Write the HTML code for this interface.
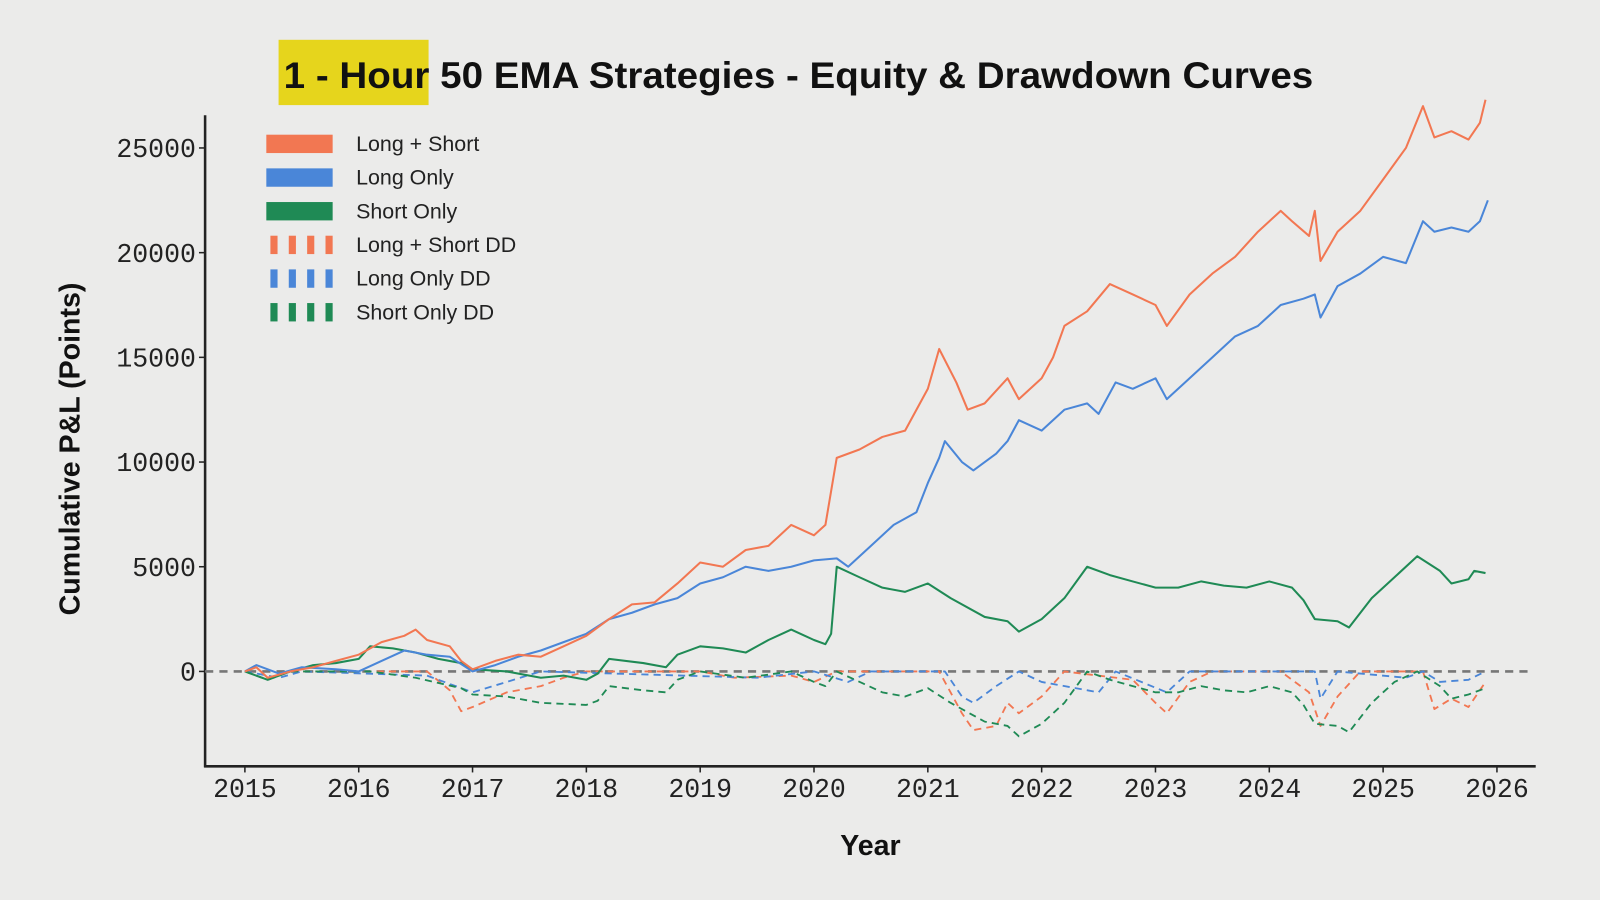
<!DOCTYPE html>
<html><head><meta charset="utf-8"><style>
html,body{margin:0;padding:0;background:#ebebea;}
svg{display:block;}
</style></head><body>
<svg id="chart" width="1600" height="900" viewBox="0 0 1568 882" preserveAspectRatio="none" xmlns="http://www.w3.org/2000/svg">
<rect width="1568" height="882" fill="#ebebea"/>
<rect x="273" y="39" width="147" height="64" fill="#e6d51c"/>
<text x="278" y="86" font-family="Liberation Sans, sans-serif" font-weight="bold" font-size="36" fill="#111" textLength="1009" lengthAdjust="spacingAndGlyphs">1 - Hour 50 EMA Strategies - Equity &amp; Drawdown Curves</text>
<text transform="translate(78,440) rotate(-90)" text-anchor="middle" font-family="Liberation Sans, sans-serif" font-weight="bold" font-size="28" fill="#111">Cumulative P&amp;L (Points)</text>
<text x="853" y="838" text-anchor="middle" font-family="Liberation Sans, sans-serif" font-weight="bold" font-size="28" fill="#111">Year</text>
<g id="plot"></g>
<g id="legend"></g>
</svg>
<script>
const yearTicks=[2015,2016,2017,2018,2019,2020,2021,2022,2023,2024,2025,2026];
const valueTicks=[0,5000,10000,15000,20000,25000];
const lsT=[2015,2015.1,2015.2,2015.4,2015.6,2015.8,2016,2016.2,2016.4,2016.5,2016.6,2016.8,2016.9,2017,2017.2,2017.4,2017.6,2017.8,2018,2018.2,2018.4,2018.6,2018.8,2019,2019.2,2019.4,2019.6,2019.8,2020,2020.1,2020.2,2020.4,2020.6,2020.8,2021,2021.1,2021.25,2021.35,2021.5,2021.7,2021.8,2022,2022.1,2022.2,2022.4,2022.6,2022.8,2023,2023.1,2023.3,2023.5,2023.7,2023.9,2024.1,2024.2,2024.35,2024.4,2024.45,2024.6,2024.8,2025,2025.2,2025.35,2025.45,2025.6,2025.75,2025.85,2025.9];
const lsV=[0,200,-300,0,200,500,800,1400,1700,2000,1500,1200,500,100,500,800,700,1200,1700,2500,3200,3300,4200,5200,5000,5800,6000,7000,6500,7000,10200,10600,11200,11500,13500,15400,13800,12500,12800,14000,13000,14000,15000,16500,17200,18500,18000,17500,16500,18000,19000,19800,21000,22000,21500,20800,22000,19600,21000,22000,23500,25000,27000,25500,25800,25400,26200,27300];
const loT=[2015,2015.1,2015.3,2015.5,2015.8,2016,2016.2,2016.4,2016.6,2016.8,2017,2017.2,2017.4,2017.6,2017.8,2018,2018.2,2018.4,2018.6,2018.8,2019,2019.2,2019.4,2019.6,2019.8,2020,2020.2,2020.3,2020.5,2020.7,2020.9,2021,2021.1,2021.15,2021.3,2021.4,2021.6,2021.7,2021.8,2022,2022.2,2022.4,2022.5,2022.65,2022.8,2023,2023.1,2023.3,2023.5,2023.7,2023.9,2024.1,2024.3,2024.4,2024.45,2024.6,2024.8,2025,2025.2,2025.35,2025.45,2025.6,2025.75,2025.85,2025.92];
const loV=[0,300,-100,200,100,0,500,1000,800,700,0,300,700,1000,1400,1800,2500,2800,3200,3500,4200,4500,5000,4800,5000,5300,5400,5000,6000,7000,7600,9000,10200,11000,10000,9600,10400,11000,12000,11500,12500,12800,12300,13800,13500,14000,13000,14000,15000,16000,16500,17500,17800,18000,16900,18400,19000,19800,19500,21500,21000,21200,21000,21500,22500];
const soT=[2015,2015.2,2015.4,2015.6,2015.8,2016,2016.1,2016.3,2016.5,2016.7,2016.9,2017,2017.3,2017.6,2017.8,2018,2018.1,2018.2,2018.5,2018.7,2018.8,2019,2019.2,2019.4,2019.6,2019.8,2020,2020.1,2020.15,2020.2,2020.4,2020.6,2020.8,2021,2021.2,2021.5,2021.7,2021.8,2022,2022.2,2022.4,2022.6,2022.8,2023,2023.2,2023.4,2023.6,2023.8,2024,2024.2,2024.3,2024.4,2024.6,2024.7,2024.9,2025.1,2025.3,2025.5,2025.6,2025.75,2025.8,2025.9];
const soV=[0,-400,0,300,400,600,1200,1100,900,600,400,100,0,-300,-200,-400,-100,600,400,200,800,1200,1100,900,1500,2000,1500,1300,1800,5000,4500,4000,3800,4200,3500,2600,2400,1900,2500,3500,5000,4600,4300,4000,4000,4300,4100,4000,4300,4000,3400,2500,2400,2100,3500,4500,5500,4800,4200,4400,4800,4700];
const lsDdT=[2015,2015.2,2015.4,2016,2016.6,2016.8,2016.9,2017,2017.3,2017.6,2017.8,2018,2019,2019.3,2019.8,2020,2020.2,2021.1,2021.3,2021.4,2021.6,2021.7,2021.8,2022,2022.2,2022.8,2023,2023.1,2023.3,2023.5,2024.1,2024.35,2024.45,2024.6,2024.8,2025.35,2025.45,2025.6,2025.75,2025.9];
const lsDdV=[0,-400,0,0,0,-900,-1900,-1700,-1000,-700,-300,0,0,-300,-200,-500,0,0,-2000,-2800,-2600,-1500,-2000,-1200,0,-400,-1500,-2000,-500,0,0,-1000,-2600,-1200,0,0,-1800,-1300,-1700,-500];
const loDdT=[2015,2015.3,2015.5,2016.6,2016.8,2017,2017.3,2017.6,2019.5,2020,2020.3,2020.5,2021.15,2021.3,2021.4,2021.6,2021.8,2022,2022.5,2022.65,2023.1,2023.3,2024.4,2024.45,2024.6,2025.2,2025.35,2025.5,2025.75,2025.9];
const loDdV=[0,-300,0,-200,-600,-1000,-500,0,-300,0,-500,0,0,-1200,-1500,-700,0,-500,-1000,0,-1000,0,0,-1300,0,-300,0,-500,-400,0];
const soDdT=[2015,2015.2,2015.4,2016.1,2016.5,2016.9,2017,2017.3,2017.6,2018,2018.1,2018.2,2018.5,2018.7,2018.8,2019,2019.4,2019.8,2020,2020.1,2020.2,2020.6,2020.8,2021,2021.2,2021.5,2021.7,2021.8,2022,2022.2,2022.4,2022.6,2022.8,2023,2023.2,2023.4,2023.6,2023.8,2024,2024.2,2024.3,2024.4,2024.6,2024.7,2024.9,2025.1,2025.3,2025.5,2025.6,2025.75,2025.9];
const soDdV=[0,-400,0,0,-300,-800,-1100,-1200,-1500,-1600,-1400,-700,-900,-1000,-400,0,-300,0,-500,-700,0,-1000,-1200,-800,-1500,-2400,-2600,-3100,-2500,-1500,0,-400,-700,-1000,-1000,-700,-900,-1000,-700,-1000,-1600,-2500,-2600,-2900,-1500,-500,0,-700,-1300,-1100,-800];
const legendLabels=["Long + Short","Long Only","Short Only","Long + Short DD","Long Only DD","Short Only DD"];

const NS="http://www.w3.org/2000/svg";
const C={o:"#f27752",b:"#4a86d8",g:"#1f8a55"};
const xS=y=>240+(y-2015)*(1467-240)/11;
const yS=v=>658-v*(658-145)/25000;
const plot=document.getElementById('plot');
function mk(tag,at,parent){const e=document.createElementNS(NS,tag);for(const k in at)e.setAttribute(k,at[k]);(parent||plot).appendChild(e);return e;}

// axes
let a=mk('line',{x1:201,y1:113,x2:201,y2:752,stroke:'#222','stroke-width':2.5});


a=mk('line',{x1:200,y1:751,x2:1505,y2:751,stroke:'#222','stroke-width':2.5});


yearTicks.forEach(y=>{
  const tk=mk('line',{x1:xS(y),x2:xS(y),y1:751,y2:757,stroke:'#222','stroke-width':1.5});
  
  
  const t=mk('text',{x:xS(y),y:781,'text-anchor':'middle','font-family':'Liberation Mono, monospace','font-size':26,fill:'#222'});
  t.textContent=y;
  
  
});
valueTicks.forEach(v=>{
  const tk=mk('line',{x1:195,x2:201,y1:yS(v),y2:yS(v),stroke:'#222','stroke-width':1.5});
  
  
  const t=mk('text',{x:192,y:yS(v)+9,'text-anchor':'end','font-family':'Liberation Mono, monospace','font-size':26,fill:'#222'});
  t.textContent=v;
  
  
});
const z=mk('line',{x1:201,x2:1500,y1:yS(0),y2:yS(0),stroke:'#777','stroke-width':2.5,'stroke-dasharray':'8,6'});



function series(T,V,col,dash,name){
  const d=T.map((t,i)=>(i?'L':'M')+xS(t).toFixed(1)+','+yS(V[i]).toFixed(1)).join(' ');
  const p=mk('path',{d:d,fill:'none',stroke:col,'stroke-width':dash?1.8:2,'stroke-dasharray':dash?'7,5':'none','stroke-linejoin':'round'});
  
  
}
series(lsDdT,lsDdV,C.o,true,'long-short-dd-line');
series(loDdT,loDdV,C.b,true,'long-only-dd-line');
series(soDdT,soDdV,C.g,true,'short-only-dd-line');
series(soT,soV,C.g,false,'short-only-line');
series(loT,loV,C.b,false,'long-only-line');
series(lsT,lsV,C.o,false,'long-short-line');

// legend
const lg=document.getElementById('legend');
const cols=[C.o,C.b,C.g,C.o,C.b,C.g];
legendLabels.forEach((lab,i)=>{
  const cy=141+i*33;
  const g=mk('g',{},lg);
  
  
  if(i<3){mk('rect',{x:261,y:cy-9,width:65,height:18,fill:cols[i]},g);}
  else{for(let k=0;k<4;k++)mk('rect',{x:265+k*18,y:cy-9,width:7,height:18,fill:cols[i]},g);}
  const t=mk('text',{x:349,y:cy+7,'font-family':'Liberation Sans, sans-serif','font-size':21,fill:'#222'},g);
  t.textContent=lab;
});
</script>
</body></html>
